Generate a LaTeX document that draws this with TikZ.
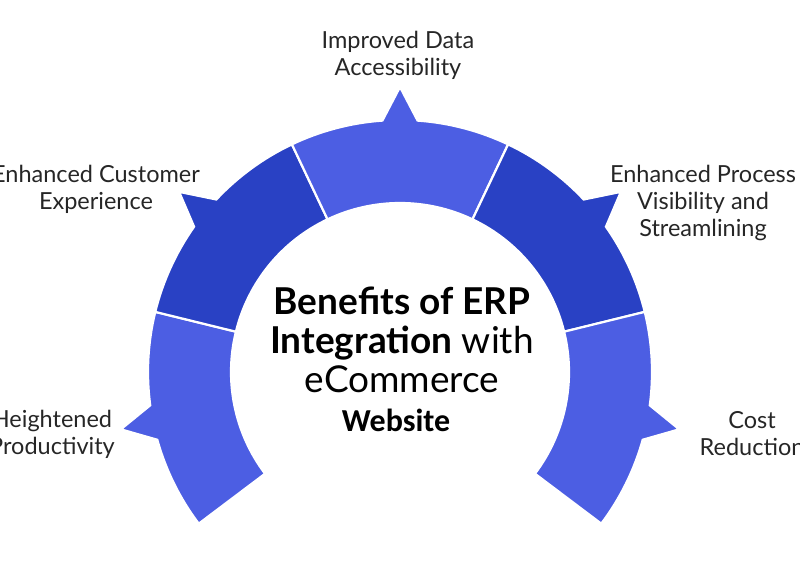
\documentclass[tikz,border=0pt]{standalone}
\usepackage{fontspec}
\setmainfont{Lato}
\newfontfamily\webfont{Carlito}
\definecolor{segL}{RGB}{76,94,227}
\definecolor{segD}{RGB}{41,65,196}
\newcommand{\ringseg}[3]{%
  \pgfmathsetmacro{\am}{(#1+#2)/2}
  \pgfmathsetmacro{\aa}{\am+4}
  \pgfmathsetmacro{\ab}{\am-4}
  \filldraw[fill=#3,draw=white,line width=2.2pt,line join=miter]
    ($(c)+(#1:252)$) arc[start angle=#1,end angle=\aa,radius=252]
    -- ($(c)+(\am:285)$) -- ($(c)+(\ab:252)$)
    arc[start angle=\ab,end angle=#2,radius=252]
    -- ($(c)+(#2:169)$) arc[start angle=#2,end angle=#1,radius=169] -- cycle;}
\begin{document}
\begin{tikzpicture}[x=1pt,y=1pt,
  lab/.style={align=center,font=\fontsize{23.5}{27}\selectfont,text=black!85},
  ttl/.style={align=center,font=\fontsize{37}{39}\selectfont}]
\useasboundingbox (0,0) rectangle (800,583);
\usetikzlibrary{calc}
\coordinate (c) at (400,211);
\ringseg{217}{166.2}{segL}
\ringseg{166.2}{115.4}{segD}
\ringseg{115.4}{64.6}{segL}
\ringseg{64.6}{13.8}{segD}
\ringseg{13.8}{-37}{segL}
\node[lab] (l1) at (398,528) {Improved Data\\Accessibility};
\node[lab] (l2) at (96,394) {Enhanced Customer\\Experience};
\node[lab] (l3) at (703,380) {Enhanced Process\\Visibility and\\Streamlining};
\node[lab] (l4) at (52,149) {Heightened\\Productivity};
\node[lab] (l5) at (752,149) {Cost\\Reduction};
\node[ttl] (t) at (402,243) {\textbf{Benefits of ERP}\\\textbf{Integration} with\\eCommerce};
\node[font=\webfont\bfseries\fontsize{32}{36}\selectfont] (w) at (396,163) {Website};
\end{tikzpicture}
\end{document}
